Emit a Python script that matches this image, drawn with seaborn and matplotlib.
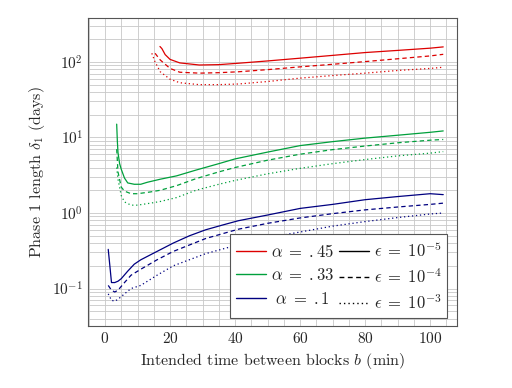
import matplotlib
matplotlib.use("Agg")
import matplotlib.pyplot as plt
import matplotlib.ticker as mticker
from matplotlib.lines import Line2D
import pandas as pd
import seaborn as sns

# alpha = .45 (red)
red_solid_b = [16.9, 17.5, 18.5, 20, 23, 29, 35, 41, 50, 60, 70, 80, 90, 100, 104]
red_solid = [160, 150, 125, 108, 97, 91, 92, 96, 103, 112, 122, 133, 142, 152, 158]
red_dash_b = [15.4, 17, 20, 23, 29, 35, 41, 50, 60, 70, 80, 90, 100, 104]
red_dash = [130, 106, 82, 73, 71, 72, 74, 79, 86, 93, 101, 110, 120, 126]
red_dot_b = [14.4, 15.4, 17, 20, 23, 29, 35, 41, 50, 60, 70, 80, 90, 100, 104]
red_dot = [130, 100, 74, 59, 53, 50, 50, 51, 55, 61, 66, 71, 77, 82, 85]

# alpha = .33 (green)
green_solid_b = [3.6, 3.8, 4, 4.5, 5, 6, 7, 9, 11, 13, 17, 22, 28, 35, 40, 50, 60, 70, 80, 90, 100, 104]
green_solid = [15, 9, 6.3, 4.5, 3.8, 2.9, 2.5, 2.4, 2.4, 2.55, 2.8, 3.1, 3.7, 4.5, 5.2, 6.4, 7.8, 8.8, 9.8, 10.7, 11.7, 12.2]
green_dash_b = [3.6, 4, 5, 6, 8, 10, 14, 17, 22, 28, 35, 40, 50, 60, 70, 80, 90, 100, 104]
green_dash = [7, 3.5, 2.2, 1.95, 1.8, 1.8, 1.9, 2.0, 2.3, 2.85, 3.5, 4.0, 5.0, 6.0, 6.9, 7.7, 8.5, 9.2, 9.4]
green_dot_b = [3.6, 4, 5, 6, 8, 10, 14, 17, 22, 28, 35, 40, 50, 60, 70, 80, 90, 100, 104]
green_dot = [4, 2.8, 1.7, 1.4, 1.27, 1.27, 1.35, 1.42, 1.6, 2.0, 2.4, 2.7, 3.3, 3.9, 4.5, 5.1, 5.7, 6.2, 6.5]

# alpha = .1 (navy)
blue_solid_b = [1, 1.5, 2, 3, 4, 5, 7, 9, 11, 16, 21, 26, 31, 36, 41, 50, 60, 70, 80, 90, 100, 104]
blue_solid = [0.33, 0.2, 0.12, 0.12, 0.125, 0.135, 0.17, 0.21, 0.24, 0.31, 0.40, 0.50, 0.60, 0.69, 0.79, 0.94, 1.15, 1.3, 1.5, 1.65, 1.8, 1.75]
blue_dash_b = [1, 2, 3, 4, 6, 8, 11, 16, 21, 31, 41, 50, 60, 70, 80, 90, 100, 104]
blue_dash = [0.11, 0.095, 0.09, 0.095, 0.12, 0.15, 0.18, 0.24, 0.31, 0.46, 0.61, 0.73, 0.86, 0.98, 1.1, 1.2, 1.3, 1.35]
blue_dot_b = [1, 2, 3, 4, 6, 8, 11, 16, 21, 31, 41, 50, 60, 70, 80, 90, 100, 104]
blue_dot = [0.085, 0.07, 0.068, 0.072, 0.085, 0.1, 0.11, 0.15, 0.2, 0.29, 0.38, 0.47, 0.56, 0.67, 0.77, 0.87, 0.97, 1.0]

alphas = [".45", ".33", ".1"]
epsilons = ["-5", "-4", "-3"]
colors = {".45": "#dd0000", ".33": "#00a03c", ".1": "#000080"}
dashes = {"-5": "", "-4": (3.5, 2.5), "-3": (1, 2.2)}

series = [
    (".45", "-5", red_solid_b, red_solid), (".45", "-4", red_dash_b, red_dash), (".45", "-3", red_dot_b, red_dot),
    (".33", "-5", green_solid_b, green_solid), (".33", "-4", green_dash_b, green_dash), (".33", "-3", green_dot_b, green_dot),
    (".1", "-5", blue_solid_b, blue_solid), (".1", "-4", blue_dash_b, blue_dash), (".1", "-3", blue_dot_b, blue_dot),
]
rows = []
for a, e, bs, ds in series:
    for b, d in zip(bs, ds):
        rows.append({"b": b, "delta": d, "alpha": a, "eps": e, "key": a + e})
df = pd.DataFrame(rows)

sns.set_style("whitegrid")
plt.rcParams["font.family"] = ["cmr10", "DejaVu Serif"]
plt.rcParams["mathtext.fontset"] = "cm"
plt.rcParams["axes.formatter.use_mathtext"] = True

fig = plt.figure(figsize=(5.12, 3.88), dpi=100)
ax = fig.add_axes([0.172, 0.16, 0.721, 0.794])

sns.lineplot(data=df, x="b", y="delta", hue="alpha", style="eps", units="key",
             estimator=None, palette=colors, dashes=dashes, sort=False,
             linewidth=0.9, legend=False, ax=ax)

ax.set_yscale("log")
ax.set_xlim(-5.2, 108.3)
ax.set_ylim(0.032, 383)
ax.xaxis.set_major_locator(mticker.MultipleLocator(20))
ax.xaxis.set_minor_locator(mticker.MultipleLocator(5))
ax.yaxis.set_major_locator(mticker.LogLocator(base=10))
ax.yaxis.set_minor_locator(mticker.LogLocator(base=10, subs=range(2, 10)))
ax.yaxis.set_minor_formatter(mticker.NullFormatter())
ax.grid(True, which="both", color="#c8c8c8", linewidth=0.6)
ax.tick_params(which="both", direction="in", length=0, labelsize=11)
for s in ax.spines.values():
    s.set_color("#555555")
    s.set_linewidth(0.8)

ax.set_xlabel(r"Intended time between blocks $b$ (min)", fontsize=11.5)
ax.set_ylabel(r"Phase 1 length $\delta_1$ (days)", fontsize=11.5)

handles = [Line2D([], [], color=colors[a], lw=1) for a in alphas]
handles += [Line2D([], [], color="black", lw=1, dashes=dashes[e] if dashes[e] else (None, None)) for e in epsilons]
labels = [r"$\alpha \;=\; .45$", r"$\alpha \;=\; .33$", r"$\ \alpha \;=\; .1$",
          r"$\epsilon \;=\; 10^{-5}$", r"$\epsilon \;=\; 10^{-4}$", r"$\epsilon \;=\; 10^{-3}$"]
leg = ax.legend(handles, labels, ncol=2, loc="lower right", bbox_to_anchor=(0.973, 0.026),
                borderaxespad=0, fontsize=12, frameon=True, fancybox=False, framealpha=1,
                edgecolor="#555555", handlelength=1.8, handletextpad=0.3,
                columnspacing=0.3, labelspacing=0.45, borderpad=0.35)
leg.get_frame().set_linewidth(0.8)

fig.savefig("out.png", dpi=100)
